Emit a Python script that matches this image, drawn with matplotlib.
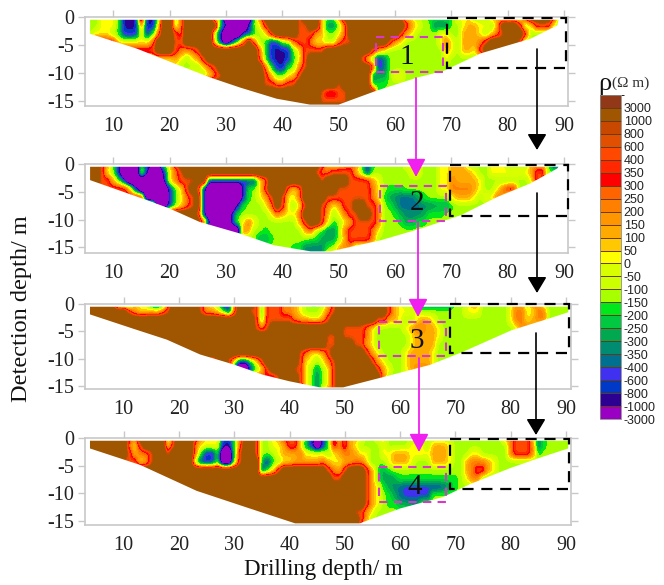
import numpy as np
import matplotlib
matplotlib.use("Agg")
import matplotlib.pyplot as plt
from matplotlib.colors import ListedColormap, BoundaryNorm
from matplotlib.patches import Polygon, Rectangle
from matplotlib.cm import ScalarMappable

W, H = 664, 585
serif = "Liberation Serif"

# colour classes from the legend, bottom to top, label = lower edge of the class
class_labels = ["-3000", "-1000", "-800", "-600", "-400", "-350", "-300", "-250", "-200",
                "-150", "-100", "-50", "0", "50", "100", "150", "200", "250", "300", "350",
                "400", "600", "800", "1000", "3000"]
class_colors = ["#9900C4", "#2C0090", "#0038C8", "#4030F0", "#007090", "#008C70", "#00A850",
                "#00C840", "#00E81C", "#A8FF00", "#CCFF00", "#D8FF00", "#FFFF00", "#FFC800",
                "#FFAA00", "#FF9600", "#FF8000", "#FF6400", "#FF0000", "#FF2800", "#FF4800",
                "#E05000", "#C84800", "#A05500", "#903818"]

# letters used in the section tables -> position on the legend
# brown and purple sit past the ends, those classes are open ended in the sections
codes = {"p": -6, "n": 1.5, "b": 2.5, "v": 3.5, "t": 4.5, "s": 5.5, "d": 5.5, "g": 6.5,
         "e": 8.5, ".": 9.5, "y": 12.5, "a": 14.5, "o": 16.5, "r": 20.5, "#": 29}

# one string per depth (0, -1.5, -3 ... -16.5 m), "14b" = class b up to drilling depth 14
section_1 = [
    "8. 11y 12e 15n 16# 18n 19e 21# 22. 23o 28# 30. 35p 36. 37o 43# 44r 47# 48y 50. 51o 55# 62r 64y 66. 71e 74y 77. 79a 83. 84r 88# 89r 93.",
    "8. 11y 12e 15n 16o 18n 19y 21# 22. 23o 29# 30g 31b 34p 35b 36. 37y 38r 43# 45r 47# 48y 50d 51. 52o 62# 63r 64a 65y 67. 70d 72. 73y 75a 77y 78. 79a 82# 83r 84. 85y 88r 89y 93.",
    "7. 10y 11. 12e 15b 16y 17b 18e 19o 21# 22r 23o 28# 29. 30b 33p 35b 36e 37. 38y 39r 43# 46r 48a 50. 51y 52o 61# 62r 63a 64y 68. 70y 72. 75a 76y 77. 78y 79o 80r 83# 84r 93.",
    "11r 14y 17y 18o 21# 23r 28# 29y 30b 31p 32b 33. 34o 35# 36o 37. 38e 40b 41e 42. 43o 45r 46o 48y 50. 51o 53r 59# 60r 61a 62y 68. 69y 70o 71y 72. 75a 76o 77r 82# 83r 93.",
    "14r 18r 21# 22r 23o 24a 25o 26r 36# 37o 38e 39b 41n 42b 43. 44y 46r 48r 56# 57r 58a 59y 69. 70a 71y 72. 74a 75y 76r 82# 93.",
    "21y 22a 23y 24. 25y 26a 27r 36# 37o 38e 39b 41n 42b 43e 44y 45r 54# 55r 56y 57e 58b 59t 60. 69. 70y 93.",
    "22y 23. 26. 27y 28o 29r 37# 38o 39e 40b 41n 42e 43. 44o 45r 56# 57r 58b 59t 60. 93.",
    "26y 27. 28y 29o 30r 37# 38r 39a 41. 42y 43a 44r 56# 57t 59g 60. 62y 93.",
    "37# 39r 41o 43r 50# 51r 56# 57g 59e 60. 93.",
    "47# 48r 50o 52r 57# 58d 93.",
    "47# 52r 93#",
    "93#",
]
section_2 = [
    "8# 9r 10a 11. 12b 15p 16e 19b 20. 21y 22r 38# 41r 47# 48r 49a 51y 52a 54o 55. 56b 57e 62. 65y 68. 70y 73a 77. 80y 84. 87a 88. 90b 93.",
    "8# 9r 10y 11. 12n 15p 16y 17b 19p 20b 21y 22o 23r 46# 47r 49o 53r 54a 55. 56b 63. 65y 68. 70y 71a 74a 75y 77. 84y 85a 87r 88. 93.",
    "8# 10r 11a 12. 13b 19p 20n 21y 22o 25r 27# 28b 36b 37y 38o 44# 45r 47# 48r 52# 56r 57a 58y 68. 70y 71o 75a 76y 84. 85y 87r 93.",
    "13r 14a 15b 20p 21b 22e 23y 24r 25# 26r 27b 33p 34b 35e 36. 37y 38r 41# 42o 43y 44o 50# 56r 57o 58y 59. 62e 68. 70y 74o 75a 76y 78. 79y 80o 82r 93.",
    "16r 20p 21b 22e 23y 24o 25r 26# 27b 33p 34b 35e 36. 37y 38a 39r 40# 41r 43y 44o 48# 56r 57o 58y 59e 60g 61s 64t 65g 66e 70. 71y 74a 75y 76. 78y 80o 93.",
    "18r 20p 21b 22e 23y 24o 25r 26# 27b 32p 33b 34e 37. 38y 39o 40# 41r 42y 43. 44y 45r 47# 48r 49o 50y 51a 53r 55# 57r 58o 59. 60e 61g 65t 67s 70g 71e 72. 93.",
    "25# 26r 27b 31p 32b 33e 38. 39y 40o 41a 43y 44o 47# 48r 49a 50. 51y 52o 54r 56# 57r 58o 60. 61e 62g 65s 66g 69e 93.",
    "26# 27r 28b 31p 32b 33. 34y 35o 36y 43. 44a 45r 47# 48r 49y 50e 51. 52y 53a 56r 57r 58o 61. 62e 64g 66e 93.",
    "33p 34o 35a 37. 38e 44. 45a 46o 47. 48e 50d 51. 52o 56r 57o 58y 93.",
    "36. 38g 39e 45. 47e 50g 51. 52a 56r 57o 93.",
    "42. 44e 46d 48s 49e 50. 51a 53o 93.",
    "44e 48s 51a 93.",
]
section_3 = [
    "8# 9r 12b 13a 15y 18b 19o 24# 25r 26a 27y 28. 30n 31o 34# 35r 36e 37r 39r 41o 42a 43y 44. 46e 47. 48a 49r 57# 59r 60a 61y 63. 70s 73. 75a 80. 81y 83a 84. 86o 93.",
    "11# 12r 13a 15y 16a 17y 18o 19r 24# 25r 27a 28y 29e 30b 31o 33# 34r 35r 36g 37r 39r 41o 42a 43y 46. 47y 48o 49r 58# 59r 60a 62y 64y 72. 75y 80. 81y 83o 85y 87o 88. 93.",
    "34# 35r 36e 37r 41r 42o 44a 46y 47a 48r 56# 58r 60a 61y 63. 64y 66a 67y 80. 81y 83o 84y 85a 87o 93.",
    "34# 35r 36o 37r 50# 54r 55o 56y 61. 62y 63a 65o 67a 68y 81. 82y 84o 85a 93.",
    "47# 49r 50# 54r 55o 56y 62. 63y 67a 68y 93.",
    "47# 49r 52# 54r 55a 56y 62. 63y 67a 68. 93.",
    "42# 43r 44o 46y 47a 48r 54# 55r 56a 57y 61. 62y 66a 67y 93.",
    "26r 27a 28r 29# 30r 31y 33b 34e 35y 36r 42# 43r 44y 45y 46. 47y 48o 49r 55# 56r 57a 58y 61. 62y 66a 67y 93.",
    "30# 31b 33p 34b 35e 36y 37r 41# 42r 43r 44y 45. 46g 47. 48y 49r 56# 57r 58a 59y 61. 62y 63a 66o 67y 93.",
    "36r 37o 38a 39r 42# 43r 44y 45. 46d 47. 48y 49r 57# 58o 93.",
    "42# 43r 44y 45. 46d 47. 48y 49r 55# 93.",
    "42# 44r 46d 49r 93#",
]
section_4 = [
    "11# 12r 13o 18# 19e 20r 23# 24r 25o 28y 30b 31e 32o 33r 34# 35r 37. 38y 39a 42r 43a 44e 47b 48e 49r 50a 51r 53a 54y 56. 58y 79. 81o 84r 85y 86s 87e 93.",
    "11# 12o 13y 14r 18# 19y 20r 23# 24o 28y 29b 30n 31e 32o 34# 35r 37. 39y 40a 42r 43y 44g 45b 46p 47b 48e 49r 50o 51r 52a 53y 57. 58y 62. 65y 66. 69a 70y 80. 81o 84r 85o 86t 87e 93.",
    "11# 12r 13a 15o 16r 18# 19r 23# 24o 25e 27b 28e 30p 31e 32r 34# 35r 38. 39y 42a 43o 47y 48. 49y 50a 52o 53a 55y 57. 59y 62a 66y 69a 70y 73. 75y 80. 81o 84r 85o 86e 93.",
    "13r 14y 15a 16r 23# 24e 25b 26n 27b 28e 30p 31e 32r 35# 36g 37b 38e 39. 41y 46a 47o 48a 50y 52a 54o 55y 56e 58. 59y 62a 63y 66. 69a 70y 72. 73a 76o 77a 78y 93.",
    "35# 36b 37e 38y 39r 47# 48r 49o 50a 51r 54# 55r 56a 57e 58g 59e 60. 72. 73a 74o 76r 77a 78y 93.",
    "48# 50r 54# 55r 56a 57e 58g 59s 60g 71e 72. 73y 75o 93.",
    "54# 55r 56a 57y 58e 59g 60s 61t 68v 69t 70g 71e 93.",
    "54# 55r 56a 57y 58. 59e 60g 61t 66v 93.",
    "54# 55r 56a 57y 58. 60e 62g 64s 93.",
    "52# 54r 55a 56y 93.",
    "53# 54r 55a 93.",
    "53# 93.",
]

# lower limit of the sections (drilling depth, detection depth)
ground_x_1 = [5.9, 14.2, 20.1, 27.2, 32.5, 39, 44.9, 50, 56.9, 64, 68.7, 75.2, 84, 88.8, 89]
ground_y_1 = [-3.0, -5.65, -8, -10.8, -12.6, -14.6, -15.65, -15.65, -13.1, -10.8, -9.6, -6.5, -3.9, -1.5, -0.6]
ground_x_2 = [5.9, 16, 20, 25.3, 32.5, 38.5, 45, 48.6, 57.5, 64.6, 71.7, 78.2, 84, 88.8, 89]
ground_y_2 = [-2.9, -6.5, -8, -10.4, -12.5, -14.6, -15.7, -15.7, -13.7, -11.6, -9.2, -5.9, -3.5, -0.8, -0.5]
ground_x_3 = [3.9, 11.7, 17.8, 23.8, 29.8, 35.2, 40, 45.5, 49.7, 57.8, 65.4, 71.4, 80.1, 85.8, 90.4]
ground_y_3 = [-1.9, -4.5, -6.5, -9.2, -11, -12.9, -14.1, -15.2, -15.2, -13.1, -11.1, -8.7, -4.8, -3, -1.5]
ground_x_4 = [3.9, 13, 23.2, 32.8, 41, 52.7, 60, 67.8, 72.6, 79.8, 85.8, 90.4]
ground_y_4 = [-1.9, -4.9, -9.6, -12.8, -15.5, -15.5, -12.8, -10.7, -8.4, -5.5, -3.4, -1.9]

x_ticks = [10, 20, 30, 40, 50, 60, 70, 80, 90]
y_ticks = [0, -5, -10, -15]
y_tick_labels = ["0", "-5", "-10", "-15"]


def read_section(rows):
    grid = np.full((len(rows), 90), codes["."], dtype=float)
    for i, row in enumerate(rows):
        start = 3
        for tok in row.split():
            end = int(tok[:-1])
            if end > start:
                grid[i, start - 3:end - 3] = codes[tok[-1]]
                start = end
    return grid


cmap = ListedColormap(class_colors)
norm = BoundaryNorm(np.arange(26), 25)
# in the sections everything above 1000 reads as the brown class
map_cmap = ListedColormap(class_colors[:24] + [class_colors[23]])
map_cmap.set_over(class_colors[23])
map_cmap.set_under(class_colors[0])

fig = plt.figure(figsize=(W / 100, H / 100), dpi=100)


def draw_section(box, xlim, ylim, rows, gx, gy):
    left, top, right, bottom = box
    ax = fig.add_axes([left / W, 1 - bottom / H, (right - left) / W, (bottom - top) / H])
    im = ax.imshow(read_section(rows), extent=(2.5, 92.5, -17.25, 0.75), aspect="auto",
                   cmap=map_cmap, norm=norm, interpolation="gaussian", interpolation_stage="data")
    outline = list(zip(gx, gy))
    outline = [(gx[0], -0.5)] + outline + [(gx[-1], -0.5)]
    im.set_clip_path(Polygon(outline, transform=ax.transData))
    ax.set_xlim(xlim)
    ax.set_ylim(ylim)
    ax.set_xticks(x_ticks)
    ax.set_yticks(y_ticks)
    ax.set_yticklabels(y_tick_labels)
    ax.tick_params(axis="x", bottom=False, top=True, length=5, width=1, color="#C8C8C8", pad=3)
    ax.tick_params(axis="y", left=True, right=True, length=5, width=1, color="#C8C8C8", pad=3)
    for lab in ax.get_xticklabels() + ax.get_yticklabels():
        lab.set_fontfamily(serif)
        lab.set_fontsize(14.5)
        lab.set_color("#222222")
    for sp in ax.spines.values():
        sp.set_color("#C8C8C8")
        sp.set_linewidth(1.2)
    return ax


draw_section((85, 17, 568, 106), (5.0, 90.7), (-15.9, 0), section_1, ground_x_1, ground_y_1)
draw_section((85, 164, 568, 253), (5.0, 90.7), (-16, 0), section_2, ground_x_2, ground_y_2)
draw_section((85, 304, 571, 389), (3.0, 90.9), (-15.5, 0), section_3, ground_x_3, ground_y_3)
draw_section((85, 438, 571, 525), (3.0, 90.9), (-15.8, 0), section_4, ground_x_4, ground_y_4)

# legend
cax = fig.add_axes([600 / W, 1 - 419 / H, 21 / W, 324 / H])
cb = fig.colorbar(ScalarMappable(norm=norm, cmap=cmap), cax=cax, spacing="uniform",
                  ticks=np.arange(25), drawedges=True)
cb.ax.set_yticklabels(class_labels, fontfamily="Liberation Sans", fontsize=9, color="#222222")
cb.ax.tick_params(length=0, pad=2)
cb.dividers.set_color("#6A3A10")
cb.dividers.set_linewidth(0.7)
cb.outline.set_edgecolor("#8A8A8A")
cb.outline.set_linewidth(0.6)

# boxes, arrows and numbers are drawn in picture pixels
over = fig.add_axes([0, 0, 1, 1], zorder=10)
over.set_xlim(0, W)
over.set_ylim(H, 0)
over.axis("off")

black_boxes = [(447, 18, 566, 68), (450, 165, 568, 216), (450, 304, 569, 353), (450, 439, 569, 489)]
pink_boxes = [(376, 37, 443, 72), (380, 186, 446, 221), (379, 322, 446, 356), (379, 467, 446, 502)]
for x0, y0, x1, y1 in black_boxes:
    over.add_patch(Rectangle((x0, y0), x1 - x0, y1 - y0, fill=False, ec="black", lw=1.6, ls=(0, (5, 3.5))))
for x0, y0, x1, y1 in pink_boxes:
    over.add_patch(Rectangle((x0, y0), x1 - x0, y1 - y0, fill=False, ec="#D838C8", lw=1.5, ls=(0, (4, 3))))

black_arrows = [(537, 49, 150), (537, 193, 293), (536, 333, 435)]
pink_arrows = [(416, 78, 177), (418, 222, 317), (419, 358, 452)]
for x, y0, y1 in black_arrows:
    over.annotate("", xy=(x, y1), xytext=(x, y0),
                  arrowprops=dict(arrowstyle="-|>,head_width=0.45,head_length=0.75", color="black",
                                  lw=1.2, mutation_scale=13, shrinkA=0, shrinkB=0))
for x, y0, y1 in pink_arrows:
    over.annotate("", xy=(x, y1), xytext=(x, y0),
                  arrowprops=dict(arrowstyle="-|>,head_width=0.45,head_length=0.85", color="#F020F0",
                                  lw=1.3, mutation_scale=13, shrinkA=0, shrinkB=0))

for txt, x, y in [("1", 407, 57), ("2", 417, 203), ("3", 417, 341), ("4", 415, 487)]:
    over.text(x, y, txt, family=serif, fontsize=21, ha="center", va="center", color="#111111")

over.text(22, 309, "Detection depth/ m", family=serif, fontsize=17.5, rotation=90, ha="center", va="center", color="#111111")
over.text(323, 570, "Drilling depth/ m", family=serif, fontsize=16.5, ha="center", va="center", color="#111111")
over.text(598, 84, "ρ", family=serif, fontsize=19, ha="left", va="center", color="#111111")
over.text(612, 83, "(Ω m)", family=serif, fontsize=11, ha="left", va="center", color="#333333")

fig.savefig("out.png", dpi=100)
